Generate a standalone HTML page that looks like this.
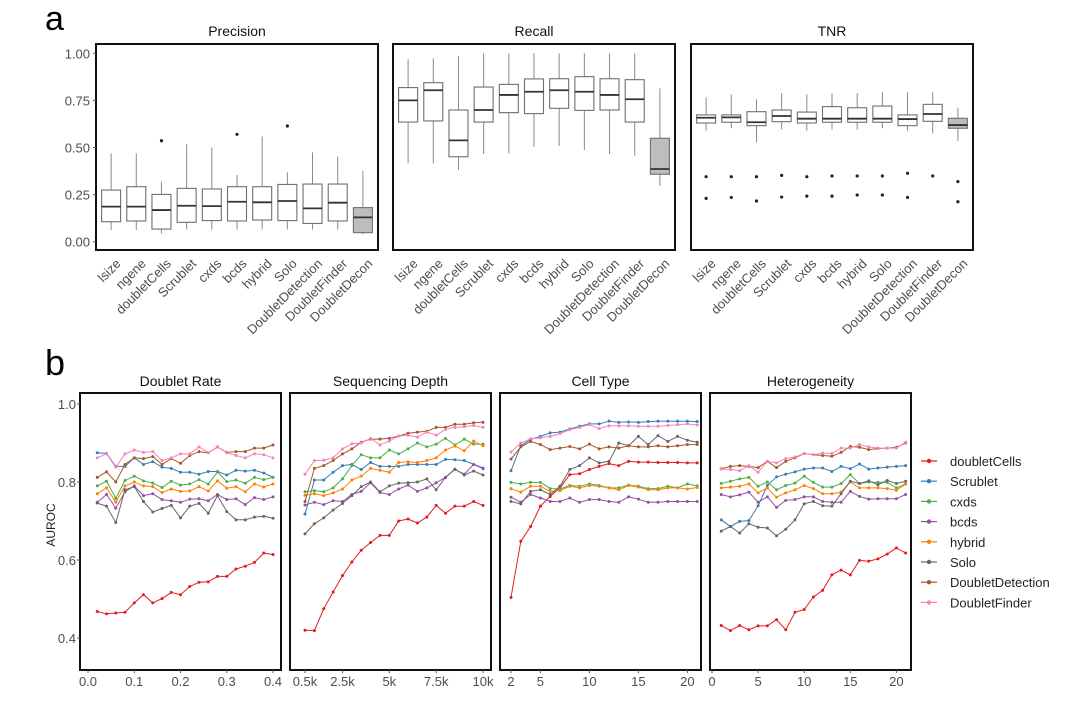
<!DOCTYPE html>
<html><head><meta charset="utf-8">
<style>
html,body{margin:0;padding:0;background:#fff;}
svg{display:block;font-family:"Liberation Sans",sans-serif;}
</style></head>
<body>
<svg id="fig" width="1080" height="704" viewBox="0 0 1080 704"></svg>
<script>
const methods = ["lsize","ngene","doubletCells","Scrublet","cxds","bcds","hybrid","Solo","DoubletDetection","DoubletFinder","DoubletDecon"];
// [min, q1, median, q3, max]
const precisionStats = [[0.062,0.106,0.186,0.274,0.469],[0.062,0.110,0.186,0.292,0.469],[0.044,0.067,0.168,0.251,0.319],[0.065,0.103,0.191,0.283,0.517],[0.065,0.112,0.189,0.280,0.501],[0.065,0.110,0.212,0.292,0.354],[0.065,0.115,0.209,0.292,0.558],[0.065,0.112,0.216,0.304,0.368],[0.065,0.097,0.177,0.306,0.474],[0.065,0.110,0.207,0.306,0.451],[0.039,0.048,0.129,0.181,0.375]];
const precisionOutliers = [[],[],[0.536],[],[],[0.570],[],[0.614],[],[],[]];
const recallStats = [[0.416,0.635,0.750,0.818,0.968],[0.416,0.641,0.804,0.844,0.973],[0.381,0.451,0.538,0.699,0.986],[0.465,0.635,0.699,0.821,1.0],[0.469,0.685,0.779,0.835,1.0],[0.504,0.680,0.796,0.864,1.0],[0.508,0.708,0.804,0.865,1.0],[0.487,0.697,0.796,0.876,1.0],[0.465,0.699,0.779,0.865,1.0],[0.457,0.635,0.756,0.860,1.0],[0.297,0.358,0.386,0.549,0.814]];
const recallOutliers = [[],[],[],[],[],[],[],[],[],[],[]];
const tnrStats = [[0.589,0.630,0.658,0.673,0.766],[0.602,0.634,0.660,0.673,0.782],[0.527,0.616,0.634,0.690,0.756],[0.596,0.637,0.667,0.699,0.788],[0.589,0.630,0.653,0.688,0.782],[0.595,0.634,0.653,0.717,0.788],[0.595,0.634,0.653,0.711,0.788],[0.602,0.634,0.653,0.720,0.793],[0.589,0.616,0.651,0.673,0.793],[0.575,0.639,0.678,0.729,0.793],[0.535,0.602,0.619,0.655,0.711]];
const tnrOutliers = [[0.345,0.230],[0.345,0.235],[0.345,0.216],[0.352,0.237],[0.345,0.242],[0.349,0.242],[0.349,0.248],[0.349,0.248],[0.363,0.235],[0.349],[0.319,0.212]];
const boxTicks = [0,0.25,0.5,0.75,1];
const boxTickLabels = ["0.00","0.25","0.50","0.75","1.00"];

const series = ["doubletCells","Scrublet","cxds","bcds","hybrid","Solo","DoubletDetection","DoubletFinder"];
const colors = ["#e41a1c","#377eb8","#4daf4a","#984ea3","#ff7f00","#666666","#a65628","#f781bf"];

const drX = [0.02,0.04,0.06,0.08,0.10,0.12,0.14,0.16,0.18,0.20,0.22,0.24,0.26,0.28,0.30,0.32,0.34,0.36,0.38,0.40];
const drY = [
[0.468,0.462,0.464,0.466,0.490,0.511,0.490,0.501,0.517,0.511,0.532,0.543,0.544,0.558,0.558,0.577,0.584,0.594,0.618,0.614],
[0.875,0.873,0.840,0.840,0.862,0.845,0.852,0.838,0.835,0.825,0.825,0.820,0.827,0.827,0.818,0.830,0.828,0.830,0.823,0.812],
[0.790,0.802,0.758,0.804,0.815,0.803,0.797,0.786,0.802,0.792,0.795,0.806,0.795,0.826,0.801,0.805,0.797,0.812,0.806,0.812],
[0.748,0.768,0.733,0.775,0.790,0.765,0.770,0.755,0.752,0.748,0.756,0.757,0.752,0.768,0.755,0.757,0.742,0.760,0.755,0.762],
[0.770,0.785,0.748,0.790,0.800,0.790,0.788,0.773,0.782,0.776,0.777,0.788,0.777,0.803,0.784,0.788,0.775,0.795,0.787,0.795],
[0.746,0.738,0.696,0.780,0.788,0.750,0.723,0.732,0.740,0.708,0.738,0.745,0.720,0.765,0.724,0.703,0.703,0.710,0.712,0.707],
[0.812,0.826,0.800,0.845,0.862,0.860,0.865,0.845,0.860,0.848,0.868,0.878,0.875,0.890,0.876,0.878,0.878,0.887,0.887,0.895],
[0.862,0.872,0.838,0.872,0.882,0.876,0.878,0.855,0.862,0.872,0.872,0.890,0.875,0.890,0.875,0.868,0.862,0.872,0.870,0.862]];
const sdX = [0.5,1,1.5,2,2.5,3,3.5,4,4.5,5,5.5,6,6.5,7,7.5,8,8.5,9,9.5,10];
const sdY = [
[0.420,0.419,0.475,0.518,0.560,0.595,0.625,0.645,0.663,0.663,0.700,0.705,0.695,0.710,0.740,0.720,0.738,0.738,0.750,0.740],
[0.718,0.805,0.805,0.825,0.842,0.845,0.832,0.850,0.840,0.840,0.840,0.845,0.845,0.845,0.845,0.858,0.857,0.855,0.845,0.836],
[0.775,0.778,0.775,0.785,0.808,0.842,0.870,0.862,0.862,0.882,0.872,0.885,0.900,0.890,0.897,0.912,0.895,0.910,0.897,0.897],
[0.741,0.748,0.742,0.752,0.750,0.768,0.776,0.798,0.773,0.768,0.782,0.792,0.776,0.785,0.798,0.812,0.832,0.820,0.845,0.834],
[0.766,0.770,0.765,0.772,0.782,0.805,0.815,0.835,0.830,0.825,0.850,0.852,0.850,0.855,0.862,0.882,0.892,0.880,0.905,0.893],
[0.667,0.693,0.708,0.728,0.745,0.765,0.788,0.800,0.775,0.790,0.797,0.798,0.800,0.808,0.780,0.812,0.833,0.818,0.828,0.818],
[0.750,0.835,0.842,0.855,0.872,0.885,0.902,0.910,0.910,0.912,0.918,0.925,0.928,0.930,0.940,0.940,0.948,0.948,0.952,0.953],
[0.820,0.855,0.856,0.862,0.885,0.898,0.900,0.912,0.895,0.905,0.918,0.920,0.915,0.928,0.920,0.935,0.940,0.942,0.945,0.940]];
const ctX = [2,3,4,5,6,7,8,9,10,11,12,13,14,15,16,17,18,19,20,21];
const ctY = [
[0.504,0.648,0.686,0.738,0.763,0.785,0.819,0.821,0.832,0.840,0.847,0.842,0.853,0.851,0.851,0.850,0.850,0.850,0.849,0.849],
[0.829,0.893,0.909,0.917,0.926,0.928,0.936,0.943,0.949,0.949,0.956,0.953,0.954,0.953,0.955,0.956,0.956,0.956,0.956,0.955],
[0.799,0.795,0.799,0.799,0.783,0.782,0.791,0.789,0.795,0.791,0.785,0.785,0.792,0.789,0.783,0.783,0.789,0.785,0.795,0.790],
[0.761,0.748,0.768,0.759,0.750,0.750,0.759,0.748,0.755,0.755,0.750,0.748,0.762,0.756,0.748,0.748,0.750,0.750,0.750,0.750],
[0.783,0.774,0.789,0.789,0.776,0.778,0.789,0.785,0.791,0.789,0.785,0.780,0.791,0.787,0.780,0.780,0.785,0.785,0.782,0.786],
[0.750,0.744,0.776,0.780,0.768,0.789,0.832,0.842,0.862,0.849,0.853,0.900,0.893,0.917,0.896,0.919,0.904,0.917,0.907,0.902],
[0.859,0.890,0.904,0.896,0.883,0.887,0.891,0.885,0.897,0.885,0.890,0.887,0.893,0.890,0.890,0.893,0.890,0.893,0.896,0.896],
[0.877,0.900,0.911,0.913,0.917,0.924,0.934,0.940,0.947,0.937,0.944,0.944,0.944,0.943,0.943,0.943,0.945,0.947,0.949,0.946]];
const htX = [1,2,3,4,5,6,7,8,9,10,11,12,13,14,15,16,17,18,19,20,21];
const htY = [
[0.432,0.419,0.432,0.421,0.431,0.431,0.447,0.421,0.466,0.473,0.505,0.522,0.562,0.574,0.562,0.599,0.597,0.603,0.615,0.631,0.618],
[0.703,0.686,0.699,0.701,0.739,0.791,0.813,0.820,0.826,0.833,0.836,0.836,0.827,0.840,0.834,0.846,0.833,0.836,0.838,0.840,0.842],
[0.796,0.802,0.808,0.812,0.789,0.800,0.780,0.791,0.797,0.815,0.799,0.787,0.787,0.796,0.819,0.796,0.800,0.799,0.799,0.785,0.795],
[0.768,0.762,0.767,0.774,0.748,0.762,0.735,0.753,0.755,0.762,0.762,0.750,0.748,0.748,0.776,0.763,0.756,0.757,0.757,0.757,0.768],
[0.785,0.787,0.789,0.795,0.772,0.785,0.761,0.772,0.780,0.791,0.783,0.770,0.770,0.774,0.800,0.785,0.785,0.785,0.783,0.779,0.795],
[0.674,0.686,0.669,0.693,0.684,0.682,0.662,0.679,0.703,0.744,0.750,0.739,0.738,0.770,0.802,0.796,0.803,0.793,0.804,0.796,0.802],
[0.834,0.840,0.842,0.840,0.837,0.853,0.837,0.853,0.862,0.873,0.870,0.868,0.866,0.876,0.891,0.889,0.883,0.886,0.887,0.889,0.900],
[0.833,0.832,0.829,0.842,0.825,0.853,0.849,0.860,0.864,0.873,0.870,0.874,0.873,0.887,0.887,0.896,0.890,0.887,0.887,0.887,0.902]];
const aurocTicks = [0.4,0.6,0.8,1.0];
const aurocTickLabels = ["0.4","0.6","0.8","1.0"];
const drTicks = [0,0.1,0.2,0.3,0.4];
const drTickLabels = ["0.0","0.1","0.2","0.3","0.4"];
const sdTicks = [0.5,2.5,5,7.5,10];
const sdTickLabels = ["0.5k","2.5k","5k","7.5k","10k"];
const ctTicks = [2,5,10,15,20];
const ctTickLabels = ["2","5","10","15","20"];
const htTicks = [0,5,10,15,20];
const htTickLabels = ["0","5","10","15","20"];

const NS = "http://www.w3.org/2000/svg";
const svg = document.getElementById("fig");
function mk(tag, attrs, parent, text){
  const e = document.createElementNS(NS, tag);
  for (const k in attrs) e.setAttribute(k, attrs[k]);
  if (text !== undefined) e.textContent = text;
  (parent || svg).appendChild(e);
  return e;
}

let t = mk("text",{x:45,y:30,"font-size":34,fill:"#000"},svg,"a");


t = mk("text",{x:45,y:375,"font-size":36,fill:"#000"},svg,"b");



const aTop = 44, aBot = 250;
const ya = v => 241.7 - v*188.4;
function boxPanel(x0, title, stats, outs, showY, nameKey){
  const w = 282;
  const g = mk("g",{});
  
  
  const tt = mk("text",{x:x0+w/2,y:36,"font-size":14,"text-anchor":"middle",fill:"#111"},g,title);
  
  
  const step = w/11.2;
  stats.forEach((s,i)=>{
    const cx = x0 + (i+0.6)*step;
    const bw = 19;
    const fill = i===10 ? "#bdbdbd" : "#fff";
    const bg = mk("g",{},g);
    
    
    mk("line",{x1:cx,x2:cx,y1:ya(s[0]),y2:ya(s[4]),stroke:"#8a8a8a","stroke-width":1},bg);
    mk("rect",{x:cx-bw/2,y:ya(s[3]),width:bw,height:ya(s[1])-ya(s[3]),fill:fill,stroke:"#6f6f6f","stroke-width":1.1},bg);
    mk("line",{x1:cx-bw/2,x2:cx+bw/2,y1:ya(s[2]),y2:ya(s[2]),stroke:"#333","stroke-width":1.8},bg);
    outs[i].forEach(o=>{
      const c = mk("circle",{cx:cx,cy:ya(o),r:1.6,fill:"#222"},bg);
      
      
    });
    const lb = mk("text",{transform:`translate(${cx+4},${aBot+8}) rotate(-45)`,"text-anchor":"end","font-size":13,fill:"#4d4d4d",dy:"0.7em"},g,methods[i]);
    
    
  });
  const fr = mk("rect",{x:x0,y:aTop,width:w,height:aBot-aTop,fill:"none",stroke:"#111","stroke-width":2},g);
  
  
  if (showY){
    boxTicks.forEach((v,i)=>{
      mk("line",{x1:x0-3,x2:x0,y1:ya(v),y2:ya(v),stroke:"#555"},g);
      const yl = mk("text",{x:x0-6,y:ya(v)+5,"font-size":13,"text-anchor":"end",fill:"#4d4d4d"},g,boxTickLabels[i]);
      
      
    });
  }
}
boxPanel(96,"Precision",precisionStats,precisionOutliers,true,"precision");
boxPanel(393,"Recall",recallStats,recallOutliers,false,"recall");
boxPanel(691,"TNR",tnrStats,tnrOutliers,false,"tnr");

const bTop = 393, bBot = 670;
const yb = v => 404 + (1-v)*390;
function linePanel(x0, title, xs, ys, xfn, ticks, tickLabels, showY, nameKey){
  const w = 201;
  const g = mk("g",{});
  
  
  const tt = mk("text",{x:x0+w/2,y:386,"font-size":14,"text-anchor":"middle",fill:"#111"},g,title);
  
  
  ys.forEach((arr,si)=>{
    const pts = arr.map((v,i)=>xfn(xs[i]).toFixed(1)+","+yb(v).toFixed(1)).join(" ");
    const sg = mk("g",{},g);
    
    
    mk("polyline",{points:pts,fill:"none",stroke:colors[si],"stroke-width":1},sg);
    arr.forEach((v,i)=>{
      mk("circle",{cx:xfn(xs[i]),cy:yb(v),r:1.5,fill:colors[si]},sg);
    });
  });
  const fr = mk("rect",{x:x0,y:bTop,width:w,height:bBot-bTop,fill:"none",stroke:"#111","stroke-width":2},g);
  
  
  ticks.forEach((v,i)=>{
    const x = xfn(v);
    mk("line",{x1:x,x2:x,y1:bBot,y2:bBot+3,stroke:"#555"},g);
    const xl = mk("text",{x:x,y:bBot+16,"font-size":13,"text-anchor":"middle",fill:"#4d4d4d"},g,tickLabels[i]);
    
    
  });
  if (showY){
    aurocTicks.forEach((v,i)=>{
      mk("line",{x1:x0-3,x2:x0,y1:yb(v),y2:yb(v),stroke:"#555"},g);
      const yl = mk("text",{x:x0-4,y:yb(v)+5,"font-size":13,"text-anchor":"end",fill:"#4d4d4d"},g,aurocTickLabels[i]);
      
      
    });
  }
}
linePanel(80,"Doublet Rate",drX,drY,v=>88+v*462.5,drTicks,drTickLabels,true,"doublet-rate");
linePanel(290,"Sequencing Depth",sdX,sdY,v=>305+(v-0.5)*18.74,sdTicks,sdTickLabels,false,"sequencing-depth");
linePanel(500,"Cell Type",ctX,ctY,v=>511+(v-2)*9.8,ctTicks,ctTickLabels,false,"cell-type");
linePanel(710,"Heterogeneity",htX,htY,v=>712+v*9.22,htTicks,htTickLabels,false,"heterogeneity");

const ya2 = mk("text",{transform:"translate(55,525) rotate(-90)","font-size":12,"text-anchor":"middle",fill:"#222"},svg,"AUROC");



const lg = mk("g",{});


series.forEach((s,i)=>{
  const y = 461 + i*20.2;
  const e = mk("g",{},lg);
  
  
  mk("line",{x1:921,x2:937,y1:y,y2:y,stroke:colors[i],"stroke-width":1.2},e);
  mk("circle",{cx:929,cy:y,r:2.2,fill:colors[i]},e);
  mk("text",{x:950,y:y+5,"font-size":13,fill:"#222"},e,s);
});
</script>
</body></html>
